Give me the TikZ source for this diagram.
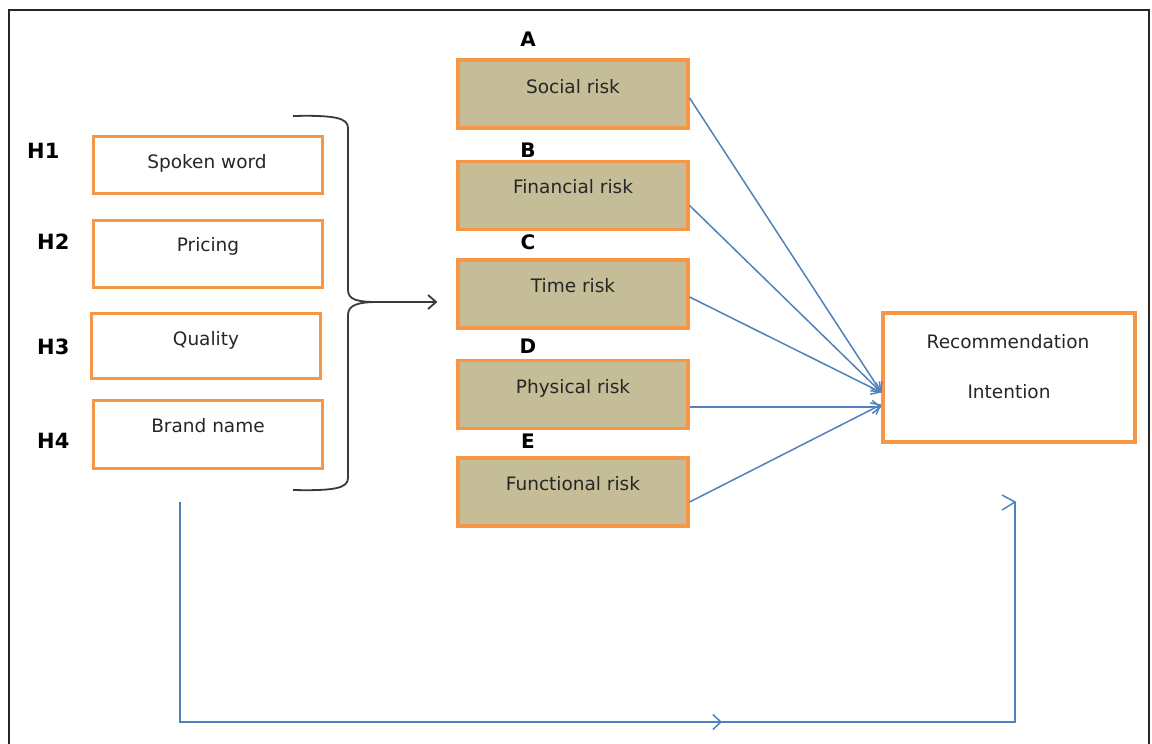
\documentclass[tikz,border=0pt]{standalone}
\usepackage{fontspec}
\setmainfont{DejaVu Sans}
\usetikzlibrary{arrows.meta,decorations.markings}
\definecolor{boxorange}{HTML}{F79646}
\definecolor{risktan}{HTML}{C4BD97}
\definecolor{linkblue}{HTML}{4F81BD}
\definecolor{inkgray}{HTML}{3A3A3A}
\begin{document}
\begin{tikzpicture}[x=1pt,y=-1pt,
  factorbox/.style={draw=boxorange, line width=3pt, fill=white, inner sep=0pt, minimum width=229pt},
  riskbox/.style={draw=boxorange, line width=3.2pt, fill=risktan, inner sep=0pt, minimum width=230pt, minimum height=68pt},
  outbox/.style={draw=boxorange, line width=3.2pt, fill=white, inner sep=0pt, minimum width=252pt, minimum height=129pt},
  boxtext/.style={font=\fontsize{18.5}{22}\selectfont, text=black!85, anchor=base, inner sep=0pt},
  tag/.style={font=\bfseries\fontsize{21}{24}\selectfont, anchor=base west, inner sep=0pt},
  letter/.style={font=\bfseries\fontsize{20}{24}\selectfont, anchor=base, inner sep=0pt},
  link/.style={draw=linkblue, line width=1.5pt, -{Straight Barb[length=8pt,width=13pt]}},
]
\useasboundingbox (0,0) rectangle (1152,744);
\clip (0,0) rectangle (1152,744);

% outer frame
\draw[line width=2pt, black!85] (9,760) -- (9,10) -- (1149,10) -- (1149,760);

% antecedent factors
\node[factorbox, minimum height=57pt] (spoken)  at (207.5,164.5) {};
\node[factorbox, minimum height=67pt] (pricing) at (208,253.5) {};
\node[factorbox, minimum height=65pt] (quality) at (206,345.5) {};
\node[factorbox, minimum height=68pt] (brand)   at (208,434) {};
\node[boxtext] (spokent)  at (207,168) {Spoken word};
\node[boxtext] (pricingt) at (208,251) {Pricing};
\node[boxtext] (qualityt) at (206,345) {Quality};
\node[boxtext] (brandt)   at (208,432) {Brand name};

% hypothesis tags
\node[tag] (h1) at (27,158) {H1};
\node[tag] (h2) at (37,249) {H2};
\node[tag] (h3) at (37,354) {H3};
\node[tag] (h4) at (37,448) {H4};

% perceived risk dimensions
\node[riskbox] (social)     at (573,94)    {};
\node[riskbox] (financial)  at (573,195.5) {};
\node[riskbox] (time)       at (573,294)   {};
\node[riskbox] (physical)   at (573,394.5) {};
\node[riskbox] (functional) at (573,492)   {};
\node[boxtext] (socialt)     at (573,93)  {Social risk};
\node[boxtext] (financialt)  at (573,193) {Financial risk};
\node[boxtext] (timet)       at (573,292) {Time risk};
\node[boxtext] (physicalt)   at (573,393) {Physical risk};
\node[boxtext] (functionalt) at (573,490) {Functional risk};

\node[letter] (la) at (528,46)  {A};
\node[letter] (lb) at (528,157) {B};
\node[letter] (lc) at (528,249) {C};
\node[letter] (ld) at (528,353) {D};
\node[letter] (le) at (528,448) {E};

% outcome
\node[outbox] (rec) at (1009,377.5) {};
\node[boxtext] (rect1) at (1008,348) {Recommendation};
\node[boxtext] (rect2) at (1009,398) {Intention};

% brace gathering the four factors
\coordinate (bracetip) at ([shift={(-19pt,-8pt)}]time.west);
\draw[inkgray, line width=1.8pt, -{Straight Barb[length=8pt,width=14pt]}]
  (293,116) .. controls (335,115) and (348,118) .. (348,128) -- (348,290)
  .. controls (348,300) and (358,302) .. (378,302) -- (bracetip);
\draw[inkgray, line width=1.8pt]
  (293,490) .. controls (335,491) and (348,488) .. (348,478) -- (348,315)
  .. controls (348,305) and (358,302) .. (378,302);

% risk dimensions to recommendation intention
\draw[link] ([yshift=-4pt]social.east)     -- ([yshift=-15pt]rec.west);
\draw[link] ([yshift=-10pt]financial.east) -- ([yshift=-15pt]rec.west);
\draw[link] ([yshift=-3pt]time.east)       -- ([yshift=-15pt]rec.west);
\draw[link] ([yshift=-12.5pt]physical.east) -- ([yshift=-29.5pt]rec.west);
\draw[link] ([yshift=-10pt]functional.east) -- ([yshift=-27pt]rec.west);

% direct path from the factors to the outcome
\coordinate (loopstart) at (180,502);
\coordinate (loopend) at (1015,502);
\draw[linkblue, line width=1.5pt, postaction={decorate},
  decoration={markings, mark=at position 762pt with {\arrow{Straight Barb[length=8pt,width=15pt]}}}]
  (loopstart) -- (180,722) -- (1015,722) -- (loopend);
\draw[linkblue, line width=1.5pt] ([shift={(-13pt,7pt)}]loopend) -- (loopend) -- ([shift={(-13pt,-8pt)}]loopend);
\end{tikzpicture}
\end{document}
